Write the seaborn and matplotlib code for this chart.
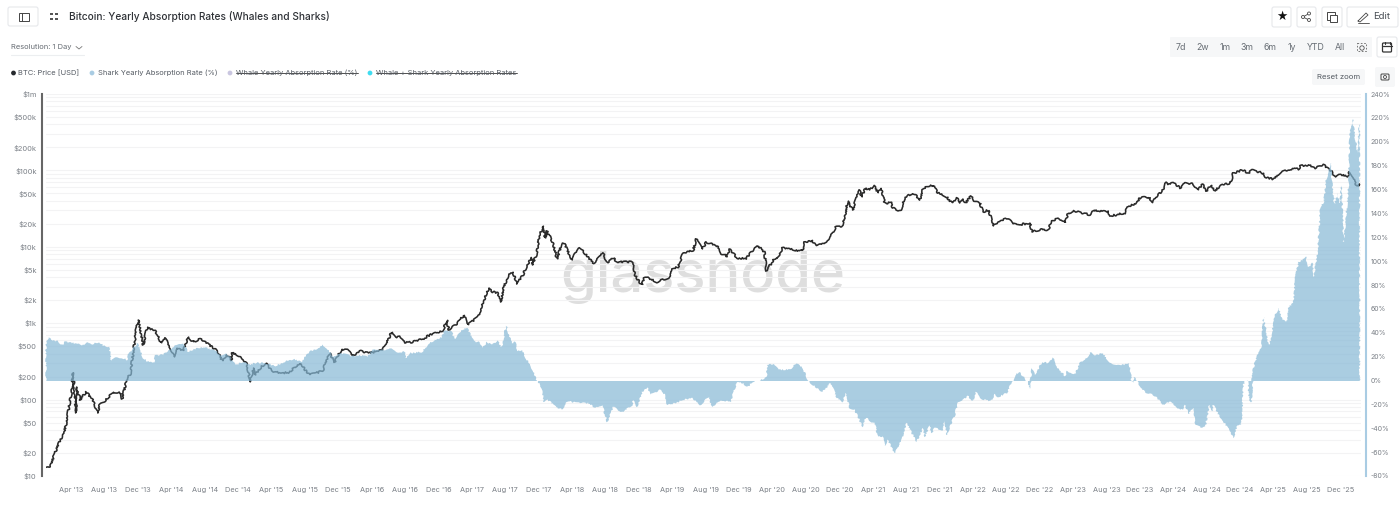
import matplotlib
matplotlib.use('Agg')
import matplotlib.pyplot as plt
from matplotlib.patches import FancyBboxPatch, Circle, Rectangle
from matplotlib.ticker import FixedLocator, NullFormatter
import numpy as np
import pandas as pd
import seaborn as sns

# BTC price
price_years = [2013.00,2013.04,2013.09,2013.13,2013.17,2013.20,2013.23,2013.25,2013.27,2013.29,2013.30,2013.31,2013.34,2013.40,2013.46,2013.52,2013.54,2013.59,2013.67,2013.75,2013.76,2013.81,2013.84,2013.87,2013.90,2013.92,2013.94,2013.97,
    2014.01,2014.09,2014.15,2014.19,2014.25,2014.28,2014.30,2014.37,2014.42,2014.47,2014.54,2014.60,2014.70,2014.76,2014.80,2014.85,2014.86,2014.94,
    2015.00,2015.04,2015.07,2015.09,2015.12,2015.19,2015.27,2015.42,2015.53,2015.63,2015.76,2015.83,2015.88,2015.95,
    2016.01,2016.06,2016.13,2016.23,2016.36,2016.40,2016.45,2016.48,2016.53,2016.58,2016.66,2016.76,2016.83,2016.96,
    2017.00,2017.02,2017.11,2017.17,2017.21,2017.31,2017.36,2017.42,2017.46,2017.51,2017.54,2017.56,2017.61,2017.66,2017.70,2017.76,2017.80,2017.85,2017.855,2017.90,2017.92,2017.96,2017.98,
    2018.00,2018.06,2018.10,2018.15,2018.17,2018.25,2018.31,2018.36,2018.45,2018.47,2018.56,2018.60,2018.66,2018.70,2018.85,2018.88,2018.92,2018.95,2018.97,
    2019.01,2019.10,2019.23,2019.25,2019.31,2019.36,2019.41,2019.46,2019.49,2019.51,2019.55,2019.59,2019.71,2019.73,2019.80,2019.82,2019.90,2019.99,
    2020.03,2020.11,2020.17,2020.19,2020.26,2020.30,2020.35,2020.40,2020.55,2020.57,2020.65,2020.68,2020.76,2020.83,2020.88,2020.94,2020.97,
    2021.00,2021.05,2021.10,2021.12,2021.14,2021.18,2021.22,2021.27,2021.30,2021.34,2021.37,2021.44,2021.45,2021.53,2021.56,2021.60,2021.67,2021.72,2021.75,2021.79,2021.85,2021.90,2021.99,
    2022.04,2022.09,2022.12,2022.15,2022.18,2022.23,2022.27,2022.32,2022.35,2022.41,2022.45,2022.52,2022.55,2022.60,2022.65,2022.70,2022.82,2022.84,2022.94,
    2023.00,2023.04,2023.10,2023.17,2023.20,2023.27,2023.42,2023.46,2023.60,2023.62,2023.77,2023.79,2023.89,2023.91,
    2024.00,2024.05,2024.09,2024.14,2024.17,2024.20,2024.25,2024.32,2024.37,2024.44,2024.50,2024.54,2024.58,2024.63,2024.67,2024.72,2024.82,2024.85,2024.94,
    2025.00,2025.04,2025.14,2025.18,2025.25,2025.32,2025.42,2025.50,2025.52,2025.60,2025.67,2025.75,2025.81,2025.87,2025.92,2025.99,
    2026.01,2026.05,2026.08,2026.11]
price_usd = [13,13.5,20,27,34.4,46.6,80,115,225,99,67,146,99,126,102,67,90,96,126,122,102,192,210,407,815,1100,865,519,
    892,790,551,640,446,361,474,433,660,568,621,551,446,320,384,330,407,361,
    301,171,259,210,244,301,230,223,301,210,237,407,310,459,
    446,372,433,407,446,551,767,660,660,551,568,621,702,790,
    1100,815,1007,1282,948,1205,1840,2890,2564,2488,1897,2722,4150,4680,3260,4272,5780,7140,5780,8300,13450,18700,13030,
    16100,11220,6920,11220,11220,6710,9660,8810,6320,6140,8300,6140,7140,6320,6320,4272,3460,3160,3900,
    3900,3460,4030,5130,5450,8300,8550,9080,12650,11220,9350,11560,9950,8050,7590,9350,7140,6920,
    8550,10260,8550,4820,6710,6920,9660,9350,8810,11560,11910,10260,10890,13450,18150,18150,24550,
    39800,30300,47600,55500,44900,58900,55500,62500,50700,57100,37500,37500,32200,29400,41000,47600,49100,41000,55500,62500,64400,50700,44900,
    37500,43500,37500,42300,37500,46200,38600,37500,28600,30300,18700,21100,22400,23800,19900,19300,20500,15600,17100,
    16600,21800,23800,20500,27700,29400,26100,30300,28600,25300,27700,33200,37500,43500,
    44900,38600,47600,52200,70600,66400,68400,58900,68400,66400,55500,66400,53800,64400,53800,64400,68400,92500,101000,
    92500,101000,92500,79600,77300,95300,104500,104500,114000,117800,107600,117800,104500,82000,89700,82000,
    95300,82000,62500,65000]

# Shark yearly absorption rate (%)
shark_years = [2013.00,2013.03,2013.07,2013.12,2013.16,2013.19,2013.27,2013.36,2013.42,2013.47,2013.53,2013.57,2013.63,2013.65,2013.71,2013.76,2013.81,2013.82,2013.86,2013.91,2013.94,2013.97,
    2014.03,2014.08,2014.09,2014.17,2014.22,2014.30,2014.37,2014.42,2014.49,2014.57,2014.67,2014.75,2014.80,2014.89,2014.97,
    2015.02,2015.10,2015.17,2015.29,2015.40,2015.47,2015.55,2015.63,2015.70,2015.76,2015.83,2015.86,2015.93,
    2016.06,2016.13,2016.21,2016.26,2016.33,2016.45,2016.50,2016.58,2016.59,2016.63,2016.75,2016.83,2016.95,2016.98,
    2017.05,2017.08,2017.13,2017.20,2017.25,2017.28,2017.33,2017.36,2017.40,2017.45,2017.51,2017.55,2017.59,2017.65,2017.68,2017.71,2017.75,2017.80,2017.86,2017.91,2017.95,2017.97,
    2018.01,2018.10,2018.15,2018.21,2018.30,2018.41,2018.48,2018.55,2018.60,2018.66,2018.75,2018.85,2018.86,2018.90,2018.95,
    2019.00,2019.03,2019.08,2019.13,2019.18,2019.20,2019.28,2019.35,2019.45,2019.53,2019.61,2019.65,2019.73,2019.83,2019.88,2019.90,2019.95,
    2020.00,2020.05,2020.13,2020.19,2020.20,2020.26,2020.31,2020.43,2020.49,2020.55,2020.60,2020.63,2020.75,2020.83,2020.89,2020.95,2020.98,
    2021.02,2021.07,2021.15,2021.18,2021.24,2021.27,2021.30,2021.35,2021.37,2021.40,2021.47,2021.55,2021.59,2021.64,2021.69,2021.75,2021.77,2021.82,2021.84,2021.87,2021.95,2021.97,2021.99,
    2022.04,2022.07,2022.10,2022.20,2022.25,2022.28,2022.34,2022.43,2022.47,2022.50,2022.59,2022.64,2022.67,2022.71,2022.77,2022.80,2022.82,2022.84,2022.87,2022.94,2022.99,
    2023.05,2023.11,2023.17,2023.19,2023.27,2023.32,2023.39,2023.43,2023.47,2023.55,2023.61,2023.72,2023.81,2023.84,2023.85,2023.86,2023.90,2023.97,
    2024.02,2024.09,2024.15,2024.22,2024.29,2024.35,2024.37,2024.40,2024.45,2024.47,2024.54,2024.57,2024.61,2024.64,2024.65,2024.72,2024.79,2024.85,2024.89,2024.93,2024.95,2024.99,
    2025.01,2025.03,2025.05,2025.09,2025.13,2025.15,2025.17,2025.20,2025.23,2025.26,2025.30,2025.34,2025.38,2025.40,2025.45,2025.47,2025.50,2025.54,2025.57,2025.60,2025.64,2025.65,2025.69,2025.72,2025.75,2025.78,2025.82,2025.84,2025.86,2025.89,2025.91,2025.93,2025.95,2025.98,
    2026.00,2026.01,2026.04,2026.06,2026.09,2026.10,2026.11]
shark_pct = [32.5,35.9,33.9,33,29.7,32.5,31.4,29.7,31.7,30.6,32.5,29.2,28.3,16.6,19.7,18.8,17.2,21.4,25.5,31.4,25.5,18.8,
    14.9,15.7,21.4,21.4,25.5,29.7,31.4,24.1,26.4,28,25.5,21.4,23.3,13,15.7,
    13,14.9,14.7,12.4,16.3,18,15.7,24.1,26.4,29.7,24.1,19.9,23,
    20.5,21.4,19.9,25.5,25.5,26.4,23.9,23.9,18.8,23,23.9,31.4,36.4,42.3,
    40.6,34.8,40.6,44.8,35.6,32.3,32.3,27.2,32.3,29.7,33.1,27.2,46.5,31.4,32.3,24.7,25.5,17.2,8.8,-0.4,-7.1,-18,
    -16.3,-23,-23.9,-17.2,-18.8,-18.8,-23,-20.5,-34.8,-22.2,-26.4,-20.5,-16.3,-22,-9.6,
    -5.4,-12.1,-9.6,-8,-12.1,-20.5,-18.8,-16.3,-14.7,-20.5,-13.8,-22.2,-16.3,-18,-5.4,-1.3,-2.1,
    -5.4,-1.3,0.4,2.9,13,13.8,8.8,9.6,14.7,10.5,1.3,-2.1,-9.6,-2.1,-13.8,-18,-10.5,
    -23,-24.7,-39,-30.6,-34.8,-34.8,-47.3,-47.3,-54.9,-49.8,-60.7,-47.3,-35.6,-44,-51.5,-39.9,-47.3,-37.3,-44,-39.9,-41.5,-33.1,-45.7,
    -34.8,-28.9,-18.8,-13,-17.2,-9.6,-15.5,-17.2,-11.3,-13.8,-10.5,-1.3,4.6,7.1,2.1,-0.4,-7.1,10.5,4.6,15.5,14.7,
    18.8,8.8,3.8,8,5.4,14.7,18.8,23.9,21.4,23,14.7,13,13.8,-0.4,-2.1,2.9,-2.1,-10.5,
    -10.5,-14.7,-20.5,-17.2,-23.9,-24.7,-20.5,-28.1,-23,-37.3,-39.9,-39,-20.5,-26.4,-20.5,-31.4,-39,-48.2,-37.3,-37.3,-3.8,0.4,
    -16.3,-18,10.5,21.4,28.1,53.2,44.8,28.1,35.6,53.2,60.7,50.7,49,61.6,64.9,86.7,99.3,100.9,104.3,95.1,98.4,86.7,106.8,145.3,149.5,169.6,182.2,162.1,147,157.1,147,163.8,116,142.8,
    162.1,204,219,205.6,190.6,214,214]

price_ticks = [10,20,50,100,200,500,1000,2000,5000,10000,20000,50000,100000,200000,500000,1000000]
price_labels = ['$10','$20','$50','$100','$200','$500','$1k','$2k','$5k','$10k','$20k','$50k','$100k','$200k','$500k','$1m']
pct_ticks = list(range(-80, 241, 20))
month_labels = ['Apr','Aug','Dec']
month_offsets = [0.25,0.5833,0.9167]
tick_years = list(range(2013, 2026))

range_labels = ['7d','2w','1m','3m','6m','1y','YTD','All']
range_x = [1181,1202.5,1225,1247,1270.5,1292,1315.5,1340]

sns.set_theme(style='white')
plt.rcParams['font.family'] = ['Inter', 'DejaVu Sans']

df_price = pd.DataFrame({'year': price_years, 'price': price_usd})
W, H = 1400, 507
fig = plt.figure(figsize=(W/100, H/100), dpi=100, facecolor='white')

# page chrome, pixel coordinates
ui = fig.add_axes([0, 0, 1, 1], zorder=-1)
ui.set_xlim(0, W)
ui.set_ylim(H, 0)
ui.axis('off')

def box(x0, y0, x1, y1, fc='white', ec='#e6e8eb', r=2):
    ui.add_patch(FancyBboxPatch((x0, y0), x1-x0, y1-y0, boxstyle=f'round,pad=0,rounding_size={r}',
                                fc=fc, ec=ec, lw=0.8, mutation_aspect=1))

def label(x, y, s, size=6.5, color='#555b63', ha='left', **kw):
    return ui.text(x, y, s, fontsize=size, color=color, ha=ha, va='center', **kw)

box(8, 7, 38, 26)
ui.add_patch(Rectangle((19, 13), 10, 8, fc='none', ec='#444', lw=0.7))
ui.plot([22, 22], [13, 21], color='#444', lw=0.7)
for px, py in [(51, 14), (56, 14), (51, 19), (56, 19)]:
    ui.add_patch(Rectangle((px-1.5, py-1), 3, 2, fc='#555', ec='none'))
label(69, 16, 'Bitcoin: Yearly Absorption Rates (Whales and Sharks)', size=7.3, color='#2e3136', fontweight='medium')

label(11, 47.5, 'Resolution: 1 Day', size=5.4, color='#666c73')
ui.plot([76, 79, 82], [46.5, 49, 46.5], color='#777', lw=0.6)
ui.plot([11, 84], [54.5, 54.5], color='#eceef0', lw=0.8)

box(1272, 7, 1291, 27)
ui.text(1281.5, 16.5, '\u2605', fontsize=9, color='#111', ha='center', va='center', family='DejaVu Sans')
box(1297, 7, 1316, 27)
for px, py in [(1303, 17), (1309, 13.5), (1309, 20)]:
    ui.add_patch(Circle((px, py), 1.5, fc='white', ec='#444', lw=0.6, zorder=3))
ui.plot([1309, 1303, 1309], [13.5, 17, 20], color='#444', lw=0.6)
box(1322, 7, 1342, 27)
ui.add_patch(Rectangle((1327, 12), 8, 8, fc='none', ec='#444', lw=0.7))
ui.add_patch(Rectangle((1329.5, 14.5), 7.5, 7.5, fc='white', ec='#444', lw=0.7))
box(1347, 7, 1398, 27)
ui.plot([1358, 1366, 1368, 1360, 1358], [21, 13, 15, 22, 21], color='#444', lw=0.6)
ui.plot([1358, 1369], [22.5, 22.5], color='#444', lw=0.6)
label(1373, 16.5, 'Edit', size=6.8, color='#444a50')

box(1170, 37, 1372, 57, fc='#f6f7f8', ec='none', r=1)
for rx, rs in zip(range_x, range_labels):
    label(rx, 47.5, rs, size=6.3, color='#666c73', ha='center')
ui.add_patch(Rectangle((1356.5, 43), 9, 8, fc='none', ec='#666', lw=0.6, ls=(0, (2, 2))))
ui.add_patch(Circle((1362, 48), 2.2, fc='#f6f7f8', ec='#555', lw=0.6))
box(1377, 37, 1397, 57)
ui.add_patch(FancyBboxPatch((1382.5, 43), 9, 9, boxstyle='round,pad=0,rounding_size=1', fc='none', ec='#333', lw=0.9))
ui.plot([1382.5, 1391.5], [46, 46], color='#333', lw=0.9)
ui.plot([1384.5, 1384.5], [41.5, 44], color='#333', lw=0.8)
ui.plot([1389.5, 1389.5], [41.5, 44], color='#333', lw=0.8)

box(1312, 69, 1365, 85, fc='#f6f7f8', ec='none')
label(1338.5, 77, 'Reset zoom', size=5.6, color='#555b63', ha='center')
box(1375, 67, 1395, 87, fc='#f6f7f8', ec='none')
ui.add_patch(FancyBboxPatch((1381, 74), 8, 6, boxstyle='round,pad=0,rounding_size=1', fc='none', ec='#444', lw=0.7))
ui.add_patch(Circle((1385, 77), 1.5, fc='none', ec='#444', lw=0.6))

legend_items = [(13.5, 18.5, 'BTC: Price [USD]', '#26292e', False, 79),
                (92, 97.5, 'Shark Yearly Absorption Rate (%)', '#a9cce3', False, 218),
                (230, 236, 'Whale Yearly Absorption Rate (%)', '#c9c6e0', True, 358),
                (370, 376, 'Whale + Shark Yearly Absorption Rates', '#3fdcf0', True, 517)]
for dot_x, text_x, name, dot_c, struck, end_x in legend_items:
    ui.add_patch(Circle((dot_x, 73), 2.4, fc=dot_c, ec='none'))
    label(text_x, 73, name, size=5.42, color='#555b63')
    if struck:
        ui.plot([text_x, end_x], [73, 73], color='#333', lw=0.6)

ui.text(703, 277, 'glassnode', fontsize=41.7, color='#dedede', ha='center', va='center', fontweight='medium')

# chart: plot area runs from px 46 to 1361, px 94 to 476
ax = fig.add_axes([46/W, 1-476/H, (1361-46)/W, (476-94)/H], facecolor='none')
sns.lineplot(data=df_price, x='year', y='price', ax=ax, estimator=None, sort=False,
             color='#2a2a2a', linewidth=1.15, zorder=3)
ax.lines[0].set_sketch_params(scale=0.9, length=4, randomness=30)  # daily-data roughness
ax.set_yscale('log')
ax.set_ylim(10, 1e6)
ax.set_xlim(2013.0, 2026.124)
ax.set_xlabel('')
ax.set_ylabel('')

minor = [m*10**e for e in range(1, 6) for m in range(2, 10)]
ax.yaxis.set_minor_locator(FixedLocator(minor))
ax.yaxis.set_minor_formatter(NullFormatter())
ax.grid(True, which='both', axis='y', color='#f3f3f4', linewidth=0.8)
ax.grid(False, axis='x')
ax.set_axisbelow(True)
ax.set_yticks(price_ticks)
ax.set_yticklabels(price_labels)

tick_pos = [y + off for y in tick_years for off in month_offsets]
tick_txt = [f"{m} '{str(y)[2:]}" for y in tick_years for m in month_labels]
ax.set_xticks(tick_pos)
ax.set_xticklabels(tick_txt)
ax.tick_params(axis='x', length=0, pad=8, labelsize=5.3, colors='#7b8087')
ax.tick_params(axis='y', which='both', length=0, pad=3.8, labelsize=5.4, colors='#7b8087')

ax2 = ax.twinx()
ax2.set_ylim(-80, 240)
yrs = np.array(shark_years)
pct = np.array(shark_pct)
# parts above and below zero drawn apart, clipped so the zero baseline stays straight
parts = [(np.where(pct > 0, pct, -3), -6, (2012, 0, 20, 300)), (np.where(pct < 0, pct, 3), 6, (2012, -100, 20, 100))]
for top, base, (cx, cy, cw, ch) in parts:
    poly = ax2.fill(np.r_[yrs, yrs[-1], yrs[0]], np.r_[top, base, base],
                    color='#86b8d5', alpha=0.7, linewidth=0, zorder=2)[0]
    poly.set_sketch_params(scale=0.75, length=3, randomness=30)
    poly.set_clip_path(Rectangle((cx, cy), cw, ch, transform=ax2.transData))
ax2.set_yticks(pct_ticks)
ax2.set_yticklabels([f'{p}%' for p in pct_ticks])
ax2.tick_params(axis='y', length=0, pad=3.5, labelsize=5, colors='#7b8087')
ax2.grid(False)

for a in (ax, ax2):
    for s in a.spines.values():
        s.set_visible(False)
ax.spines['left'].set_visible(True)
ax.spines['left'].set_position(('outward', 3))
ax.spines['left'].set_color('#666666')
ax.spines['left'].set_linewidth(1.5)
ax2.spines['right'].set_visible(True)
ax2.spines['right'].set_position(('outward', 3.6))
ax2.spines['right'].set_color('#a9cce3')
ax2.spines['right'].set_linewidth(1.5)

fig.savefig('out.png', dpi=100)
